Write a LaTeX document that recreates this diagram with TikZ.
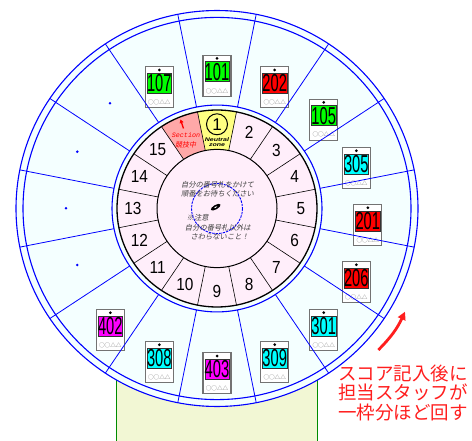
\documentclass[tikz,border=0pt]{standalone}
\usepackage{fontspec}
\usepackage{graphicx}
\usepackage{xcolor}
\usepackage{tikz}
\usetikzlibrary{calc,arrows.meta}
\setmainfont{Liberation Sans}
\newfontfamily\jpfont{Noto Sans CJK JP}
\newfontfamily\jpslant[FakeSlant=0.2]{Noto Sans CJK JP}
\newfontfamily\monofont{Liberation Mono}

\definecolor{wheelblue}{RGB}{0,0,255}
\definecolor{wheelbg}{RGB}{244,255,255}
\definecolor{ringpink}{RGB}{255,238,250}
\definecolor{zoneyellow}{RGB}{255,255,130}
\definecolor{sectionred}{RGB}{255,168,168}
\definecolor{standbg}{RGB}{242,247,212}
\definecolor{standline}{RGB}{0,140,0}
\definecolor{notered}{RGB}{255,30,30}
\definecolor{taggreen}{RGB}{0,255,0}
\definecolor{tagred}{RGB}{255,0,0}
\definecolor{tagcyan}{RGB}{0,255,255}
\definecolor{tagmagenta}{RGB}{255,0,255}

\newcommand{\tagdigits}[1]{{\fontsize{24.5}{24.5}\selectfont\scalebox{0.6}[1]{#1}}}
\newcommand{\secdigits}[1]{{\fontsize{17.5}{17.5}\selectfont\scalebox{0.88}[1]{#1}}}

% number tag: name, position, colour, number
\newcommand{\numtag}[4]{%
  \node[tagframe] (#1) at (#2) {};
  \node[tagband, fill=#3] (#1band) at ($(#1.north)+(0,17)$) {\tagdigits{#4}};
  \fill ($(#1.north)+(0,3.8)$) circle (1.5);
  \node[tagname] (#1name) at ($(#1.south)+(0,-6)$) {○○△△};
}

\begin{document}
\begin{tikzpicture}[x=1pt, y=-1pt,
    wheel/.style={shift={(217,208.5)}, y=-0.985pt},
    tagframe/.style={draw=black!55, line width=1.2pt, fill=white, minimum width=28pt, minimum height=41pt, inner sep=0pt},
    tagband/.style={draw=black!80, line width=0.4pt, minimum width=24.5pt, minimum height=20pt, inner sep=0pt},
    tagname/.style={font=\jpfont\fontsize{5.6}{6}\selectfont, text=black!60, inner sep=0pt},
    guide/.style={font=\jpslant\fontsize{7.3}{8}\selectfont, text=black!75, inner sep=0pt}]
    \useasboundingbox (0,0) rectangle (472,441);

    % Stand
    \fill[standbg] (116,300) rectangle (317,441);
    \draw[standline, line width=0.8pt] (116,300) -- (116,441) (317,300) -- (317,441);

    % Wheel
    \begin{scope}[wheel]
        \fill[wheelbg] (0,0) circle (201);
        \draw[wheelblue, line width=1.1pt] (0,0) circle (201) (0,0) circle (194);
        \fill[ringpink] (0,0) circle (100);
        \draw[wheelblue, line width=1.1pt] (0,0) circle (105);
        % Neutral zone and section
        \fill[zoneyellow] (-101.25:60) -- (-101.25:100) arc[start angle=-101.25, end angle=-78.75, radius=100]
            -- (-78.75:60) arc[start angle=-78.75, end angle=-101.25, radius=60] -- cycle;
        \fill[sectionred] (-123.75:60) -- (-123.75:100) arc[start angle=-123.75, end angle=-101.25, radius=100]
            -- (-101.25:60) arc[start angle=-101.25, end angle=-123.75, radius=60] -- cycle;
        \foreach \a in {0,...,15}
            \draw[line width=0.6pt] ({-78.75+22.5*\a}:60) -- ({-78.75+22.5*\a}:100);
        \draw[line width=1.3pt] (0,0) circle (100);
        \draw[line width=1pt] (0,0) circle (60);
        \draw[wheelblue, line width=0.9pt, dash pattern=on 2.5pt off 1pt] (0,0) circle (25.5);
        % Section numbers
        \foreach \n in {2,...,15}
            \node[inner sep=0pt] (s\n) at ({-90+22.5*(\n-1)}:84) {\secdigits{\n}};
        \node[circle, draw, line width=1pt, fill=zoneyellow, minimum size=21pt, inner sep=0pt] (s1) at (-90:85.5) {\fontsize{17}{17}\selectfont 1};
    \end{scope}

    % Zone labels
    \node[font=\bfseries\itshape\fontsize{7}{7}\selectfont, inner sep=0pt] (neutral) at (217,139.8) {\scalebox{1}[0.75]{Neutral}};
    \node[font=\bfseries\itshape\fontsize{7}{7}\selectfont, inner sep=0pt] (zone) at (217,145.3) {\scalebox{1}[0.75]{zone}};
    \node[text=red, font=\monofont\itshape\fontsize{6.7}{7}\selectfont, inner sep=0pt] (section) at (186,135.5) {Section};
    \node[text=red, font=\jpslant\fontsize{7}{7}\selectfont, inner sep=0pt] (sectionjp) at (185.5,144.5) {競技中};
    \coordinate (uptail) at (183.5,128.5);
    \coordinate (uphead) at (180.5,119.5);
    \draw[red, line width=1.3pt, -{Triangle[length=3.5pt,width=4pt]}] (uptail) -- (uphead);

    % Centre
    \node[guide] (wait1) at (217.5,184.3) {自分の番号札をかけて};
    \node[guide] (wait2) at (217.5,193.3) {順番をお待ちください};
    \node[guide, anchor=west] (caution) at (186.5,217.3) {※注意};
    \node[guide] (touch1) at (217.8,227.3) {自分の番号札以外は};
    \node[guide] (touch2) at (219.7,236.7) {さわらないこと！};
    \fill[rotate around={30:(215.7,207.2)}] (215.7,207.2) ellipse [x radius=5.5, y radius=2.2];
    \fill[white, rotate around={30:(215.7,207.2)}] (215.7,207.2) ellipse [x radius=1.8, y radius=0.6];

    % Tags
    \numtag{t101}{217,75.8}{taggreen}{101}
    \numtag{t202}{274.7,87.3}{tagred}{202}
    \numtag{t105}{323.7,119.7}{taggreen}{105}
    \numtag{t305}{356.3,168}{tagcyan}{305}
    \numtag{t201}{367.8,225}{tagred}{201}
    \numtag{t206}{356.3,282}{tagred}{206}
    \numtag{t301}{323.7,330}{tagcyan}{301}
    \numtag{t309}{274.7,362}{tagcyan}{309}
    \numtag{t403}{217,373.3}{tagmagenta}{403}
    \numtag{t308}{159.3,362}{tagcyan}{308}
    \numtag{t402}{110.3,330}{tagmagenta}{402}
    \numtag{t107}{159.3,87.3}{taggreen}{107}

    % Empty places
    \foreach \p in {(110,103.3), (77.3,151.7), (66,208.3), (77.3,265)}
        \fill[wheelblue] \p circle (1.4);

    % Outer spokes
    \begin{scope}[wheel]
        \foreach \a in {0,...,15}
            \draw[wheelblue, line width=0.8pt] ({-78.75+22.5*\a}:105) -- ({-78.75+22.5*\a}:201);
    \end{scope}

    % Turning note
    \coordinate (turnfrom) at (378.3,350);
    \coordinate (turnto) at (405,311.7);
    \draw[notered, line width=2.8pt, -{Triangle[length=8pt,width=8pt]}] (turnfrom) to[bend right=10] (turnto);
    \node[text=notered, font=\jpfont\fontsize{18.5}{19.5}\selectfont, align=center, inner sep=0pt] (note) at (403,393) {スコア記入後に\\担当スタッフが\\一枠分ほど回す};
\end{tikzpicture}
\end{document}
